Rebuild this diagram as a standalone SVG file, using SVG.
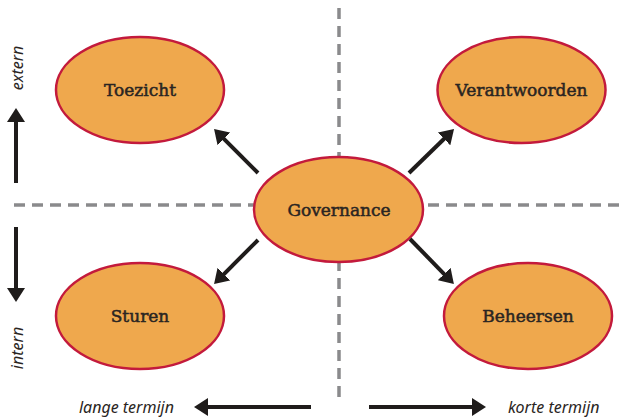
<svg xmlns="http://www.w3.org/2000/svg" width="626" height="419" viewBox="0 0 626 419">
  <style>
    .dash { stroke: #8a8a8c; stroke-width: 3.5; stroke-dasharray: 11 7; fill: none; }
    .node ellipse { fill: #efa84d; stroke: #c31a3c; stroke-width: 2.5; }
    .node text { font-family: "DejaVu Serif", "Liberation Serif", serif; font-size: 17px; fill: #2a2522; stroke: #2a2522; stroke-width: 0.5; text-anchor: middle; }
    .conn line { stroke: #1f1c1b; stroke-width: 4; marker-end: url(#ah); }
    .axis { font-family: "Noto Sans", "Open Sans", sans-serif; font-style: italic; font-size: 16px; fill: #2a2522; }
  </style>
  <defs>
    <marker id="ah" markerUnits="userSpaceOnUse" markerWidth="14" markerHeight="18" refX="6" refY="9" orient="auto">
      <path d="M0,0 L14,9 L0,18 z" fill="#1f1c1b"/>
    </marker>
  </defs>
  <rect width="626" height="419" fill="#ffffff"/>

  <g id="grid">
    <line class="dash" x1="14" y1="205" x2="626" y2="205"/>
    <line class="dash" x1="339" y1="8" x2="339" y2="402"/>
  </g>

  <g id="toezicht" class="node">
    <ellipse cx="140" cy="90" rx="84" ry="53"/>
    <text x="140" y="96">Toezicht</text>
  </g>
  <g id="verantwoorden" class="node">
    <ellipse cx="521.5" cy="90" rx="84" ry="53"/>
    <text x="521.5" y="96">Verantwoorden</text>
  </g>
  <g id="governance" class="node">
    <ellipse cx="338.5" cy="209.5" rx="84.5" ry="52.5"/>
    <text x="339" y="215.5">Governance</text>
  </g>
  <g id="sturen" class="node">
    <ellipse cx="140" cy="316" rx="84" ry="53"/>
    <text x="140" y="322">Sturen</text>
  </g>
  <g id="beheersen" class="node">
    <ellipse cx="528" cy="316" rx="84" ry="53"/>
    <text x="528" y="322">Beheersen</text>
  </g>

  <g id="connectors" class="conn">
    <line x1="258" y1="173" x2="219.7" y2="134.7"/>
    <line x1="409" y1="173" x2="448.3" y2="134.7"/>
    <line x1="258" y1="240" x2="219.7" y2="278.3"/>
    <line x1="410" y1="239" x2="448.3" y2="278.3"/>
    <line x1="16" y1="183" x2="16" y2="116"/>
    <line x1="16" y1="227" x2="16" y2="294"/>
    <line x1="311" y1="407" x2="202" y2="407"/>
    <line x1="369" y1="407" x2="478" y2="407"/>
  </g>

  <g id="axis-labels">
    <text class="axis" text-anchor="middle" transform="translate(23,68) rotate(-90)">extern</text>
    <text class="axis" text-anchor="middle" transform="translate(23,348) rotate(-90)">intern</text>
    <text class="axis" x="174" y="413" text-anchor="end">lange termijn</text>
    <text class="axis" x="508" y="413">korte termijn</text>
  </g>
</svg>
